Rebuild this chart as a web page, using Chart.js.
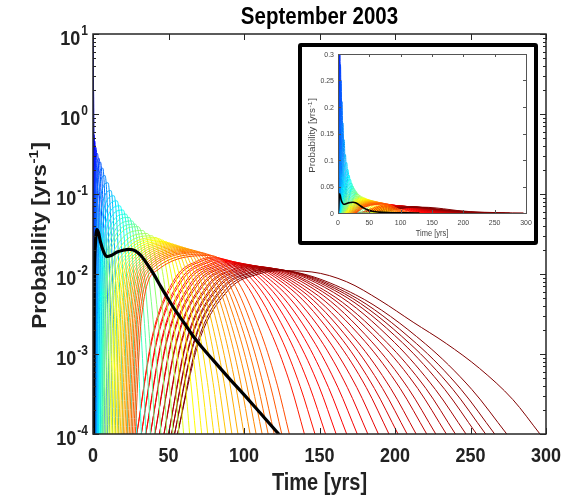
<!DOCTYPE html>
<html>
<head>
<meta charset="utf-8">
<title>September 2003</title>
<script src="https://cdn.jsdelivr.net/npm/chart.js@4.4.1/dist/chart.umd.min.js"></script>
<style>
  html, body { margin: 0; padding: 0; background: #fff; }
  #stage { position: relative; width: 582px; height: 500px; overflow: hidden; }
  #main { position: absolute; left: 0; top: 0; }
  #insetBox { position: absolute; left: 298px; top: 43px; width: 240px; height: 202px; box-sizing: border-box;
              border: 4px solid #000; border-radius: 3px; background: #fff; }
  #inset { position: absolute; left: 0; top: 0; }
</style>
</head>
<body>
<div id="stage">
  <canvas id="main" width="582" height="500"></canvas>
  <div id="insetBox"><canvas id="inset" width="232" height="194"></canvas></div>
</div>
<script>
// ---- recurrence-time densities, [time in yrs, probability per yr] ----
// short-interval family (blue)
const blueCurves = [
  [[0,1e-4],[0.05,2],[0.12,11],[0.3,1],[0.5,0.01],[0.7,1e-4]],
  [[0.05,1e-4],[0.15,0.4],[0.35,2.0],[0.7,0.3],[1.1,0.01],[1.5,1e-4]],
  [[0.1,1e-4],[0.15,0.027],[0.28,0.27],[0.7,0.55],[1.33,0.15],[1.87,0.0115],[2.23,0.001],[2.5,1e-4]],
  [[0.2,1e-4],[0.28,0.024],[0.5,0.23],[1.2,0.46],[2.0,0.13],[2.7,0.0103],[3.15,0.00098],[3.5,1e-4]],
  [[0.3,1e-4],[0.44,0.021],[0.81,0.195],[2,0.38],[3.05,0.11],[3.95,0.0093],[4.55,0.00093],[5,1e-4]],
  [[0.5,1e-4],[0.7,0.019],[1.25,0.168],[3,0.32],[4.23,0.095],[5.28,0.0085],[5.98,0.00089],[6.5,1e-4]],
  [[0.7,1e-4],[0.96,0.0174],[1.69,0.148],[4,0.28],[5.4,0.085],[6.6,0.0079],[7.4,0.00085],[8,1e-4]],
  [[0.9,1e-4],[1.23,0.016],[2.13,0.134],[5,0.25],[6.58,0.078],[7.93,0.0074],[8.83,0.00083],[9.5,1e-4]],
  [[1.2,1e-4],[1.62,0.0145],[2.79,0.114],[6.5,0.21],[8.08,0.067],[9.43,0.0067],[10.33,0.00079],[11,1e-4]],
  [[1.5,1e-4],[2.02,0.0126],[3.45,0.094],[8,0.17],[9.75,0.056],[11.25,0.006],[12.25,0.00074],[13,1e-4]],
  [[2,1e-4],[2.64,0.011],[4.4,0.078],[10,0.138],[11.75,0.047],[13.25,0.0054],[14.25,0.00071],[15,1e-4]],
  [[2.5,1e-4],[3.26,0.0095],[5.35,0.063],[12,0.11],[13.75,0.038],[15.25,0.0047],[16.25,0.00066],[17,1e-4]]
];
// intermediate family (cyan to green)
const cyanCurves = [
  [[3,1e-4],[3.88,0.0086],[6.3,0.055],[14,0.095],[16.1,0.034],[17.9,0.0044],[19.1,0.00064],[20,1e-4]],
  [[3.5,1e-4],[4.5,0.0078],[7.25,0.048],[16,0.082],[18.45,0.030],[20.55,0.0040],[21.95,0.00061],[23,1e-4]],
  [[4,1e-4],[5.12,0.0071],[8.2,0.042],[18,0.071],[20.8,0.0265],[23.2,0.0037],[24.8,0.00059],[26,1e-4]],
  [[4.5,1e-4],[5.74,0.0066],[9.15,0.0376],[20,0.063],[23.15,0.0239],[25.85,0.0035],[27.65,0.00057],[29,1e-4]],
  [[5,1e-4],[6.36,0.0061],[10.1,0.0337],[22,0.056],[25.5,0.0217],[28.5,0.0032],[30.5,0.00055],[32,1e-4]],
  [[5.5,1e-4],[6.98,0.0058],[11.05,0.031],[24,0.051],[27.85,0.020],[31.15,0.0031],[33.35,0.00054],[35,1e-4]],
  [[6,1e-4],[7.6,0.0054],[12,0.0282],[26,0.046],[30.2,0.0184],[33.8,0.0029],[36.2,0.00052],[38,1e-4]],
  [[6.5,1e-4],[8.22,0.0051],[12.95,0.0259],[28,0.042],[32.55,0.017],[36.45,0.0028],[39.05,0.00051],[41,1e-4]],
  [[7,1e-4],[8.84,0.0048],[13.9,0.0242],[30,0.039],[35.25,0.0159],[39.75,0.0027],[42.75,0.0005],[45,1e-4]],
  [[8,1e-4],[10,0.0045],[15.5,0.0219],[33,0.035],[38.6,0.0145],[43.4,0.0025],[46.6,0.00049],[49,1e-4]],
  [[9,1e-4],[11.16,0.0043],[17.1,0.0202],[36,0.032],[41.95,0.0135],[47.05,0.0024],[50.45,0.00047],[53,1e-4]],
  [[10,1e-4],[12.32,0.0041],[18.7,0.019],[39,0.030],[45.3,0.0127],[50.7,0.0023],[54.3,0.00047],[57,1e-4]]
];
// longer family (yellow to orange)
const yellowCurves = [
  [[11,1e-4],[13.48,0.0039],[20.3,0.0182],[42,0.0285],[48.3,0.0122],[53.7,0.0022],[57.3,0.00046],[60,1e-4]],
  [[12,1e-4],[14.56,0.0038],[21.6,0.0175],[44,0.0275],[51,0.0118],[57,0.0022],[61,0.00046],[64,1e-4]],
  [[13,1e-4],[15.64,0.0038],[22.9,0.0169],[46,0.0265],[53.7,0.0115],[60.3,0.0022],[64.7,0.00045],[68,1e-4]],
  [[14,1e-4],[16.72,0.0037],[24.2,0.0164],[48,0.0255],[56.4,0.0111],[63.6,0.0021],[68.4,0.00045],[72,1e-4]],
  [[15,1e-4],[17.8,0.0036],[25.5,0.0159],[50,0.0247],[59.1,0.0108],[66.9,0.0021],[72.1,0.00044],[76,1e-4]],
  [[16,1e-4],[18.88,0.0035],[26.8,0.0155],[52,0.024],[61.8,0.0105],[70.2,0.0020],[75.8,0.00044],[80,1e-4]],
  [[17,1e-4],[19.96,0.0035],[28.1,0.0151],[54,0.0233],[64.5,0.0103],[73.5,0.0020],[79.5,0.00044],[84,1e-4]],
  [[18,1e-4],[21.04,0.0034],[29.4,0.0147],[56,0.0226],[67.2,0.0100],[76.8,0.0020],[83.2,0.00043],[88,1e-4]],
  [[19,1e-4],[22.12,0.0033],[30.7,0.0143],[58,0.022],[69.9,0.0098],[80.1,0.0019],[86.9,0.00043],[92,1e-4]],
  [[20,1e-4],[23.2,0.0033],[32,0.0139],[60,0.0214],[72.6,0.0096],[83.4,0.0019],[90.6,0.00043],[96,1e-4]],
  [[21,1e-4],[24.28,0.0032],[33.3,0.0136],[62,0.0208],[75.3,0.0093],[86.7,0.0019],[94.3,0.00042],[100,1e-4]],
  [[22,1e-4],[25.36,0.0032],[34.6,0.0132],[64,0.0203],[78,0.0091],[90,0.0019],[98,0.00042],[104,1e-4]],
  [[23,1e-4],[26.44,0.0031],[35.9,0.0130],[66,0.0198],[80.7,0.0090],[93.3,0.0018],[101.7,0.00042],[108,1e-4]],
  [[24,1e-4],[27.52,0.0031],[37.2,0.0127],[68,0.0193],[83.4,0.0088],[96.6,0.0018],[105.4,0.00041],[112,1e-4]],
  [[25,1e-4],[28.6,0.0030],[38.5,0.0124],[70,0.0188],[86.1,0.0086],[99.9,0.0018],[109.1,0.00041],[116,1e-4]],
  [[26,1e-4],[29.68,0.0030],[39.8,0.0121],[72,0.0184],[88.8,0.0084],[103.2,0.0018],[112.8,0.00041],[120,1e-4]],
  [[27,1e-4],[30.84,0.0029],[41.4,0.0117],[75,0.0177],[92.5,0.0081],[107.5,0.0017],[117.5,0.0004],[125,1e-4]],
  [[28,1e-4],[32,0.0028],[43,0.0113],[78,0.017],[96.2,0.0079],[111.8,0.0017],[122.2,0.0004],[130,1e-4]]
];
// longest family (red to dark red)
const redCurves = [
  [[29,1e-4],[39.2,0.00165],[54.5,0.0089],[69.8,0.0147],[80,0.0163],[101,0.0076],[119,0.00165],[131,0.0004],[140,1e-4]],
  [[29,1e-4],[39.6,0.00163],[55.5,0.0087],[71.4,0.0144],[82,0.0159],[104.75,0.0074],[124.25,0.00163],[137.25,0.00039],[147,1e-4]],
  [[32,1e-4],[42.4,0.0016],[58,0.0085],[73.6,0.0140],[84,0.0155],[108.5,0.0073],[129.5,0.0016],[143.5,0.00039],[154,1e-4]],
  [[32,1e-4],[42.8,0.00158],[59,0.0083],[75.2,0.0137],[86,0.0151],[112.25,0.0071],[134.75,0.00158],[149.75,0.00039],[161,1e-4]],
  [[35,1e-4],[45.6,0.00156],[61.5,0.0081],[77.4,0.0133],[88,0.0147],[116,0.0070],[140,0.00156],[156,0.00038],[168,1e-4]],
  [[35,1e-4],[46,0.00154],[62.5,0.0079],[79,0.0130],[90,0.0144],[119.75,0.0068],[145.25,0.00154],[162.25,0.00038],[175,1e-4]],
  [[38,1e-4],[48.8,0.00152],[65,0.0078],[81.2,0.0128],[92,0.0141],[123.5,0.0067],[150.5,0.00152],[168.5,0.00038],[182,1e-4]],
  [[38,1e-4],[49.2,0.0015],[66,0.0076],[82.8,0.0125],[94,0.0138],[127.25,0.0066],[155.75,0.0015],[174.75,0.00038],[189,1e-4]],
  [[41,1e-4],[52,0.00149],[68.5,0.0076],[85,0.0123],[96,0.0136],[131,0.0065],[161,0.00149],[181,0.00038],[196,1e-4]],
  [[41,1e-4],[52.4,0.00147],[69.5,0.0074],[86.6,0.0121],[98,0.0133],[134.4,0.0064],[165.6,0.00147],[186.4,0.00037],[202,1e-4]],
  [[44,1e-4],[55.2,0.00146],[72,0.0073],[88.8,0.0119],[100,0.0131],[137.8,0.0063],[170.2,0.00146],[191.8,0.00037],[208,1e-4]],
  [[44,1e-4],[55.6,0.00145],[73,0.0072],[90.4,0.0117],[102,0.0129],[141.2,0.0062],[174.8,0.00145],[197.2,0.00037],[214,1e-4]],
  [[47,1e-4],[58.4,0.00144],[75.5,0.0071],[92.6,0.0115],[104,0.0127],[144.95,0.0061],[180.05,0.00144],[203.45,0.00037],[221,1e-4]],
  [[47,1e-4],[58.8,0.00142],[76.5,0.0070],[94.2,0.0114],[106,0.0125],[148.35,0.0061],[184.65,0.00142],[208.85,0.00037],[227,1e-4]],
  [[50,1e-4],[61.6,0.00142],[79,0.0070],[96.4,0.0113],[108,0.0124],[152.1,0.0060],[189.9,0.00142],[215.1,0.00037],[234,1e-4]],
  [[50,1e-4],[62,0.0014],[80,0.0069],[98,0.0111],[110,0.0122],[155.5,0.0059],[194.5,0.0014],[220.5,0.00037],[240,1e-4]],
  [[52,1e-4],[64,0.00139],[82,0.0068],[100,0.0109],[112,0.0120],[159.25,0.0059],[199.75,0.00139],[226.75,0.00036],[247,1e-4]],
  [[52,1e-4],[64.4,0.00138],[83,0.0067],[101.6,0.0107],[114,0.0118],[163,0.0058],[205,0.00138],[233,0.00036],[254,1e-4]],
  [[54,1e-4],[66.4,0.00136],[85,0.0066],[103.6,0.0105],[116,0.0116],[166.4,0.0057],[209.6,0.00136],[238.4,0.00036],[260,1e-4]],
  [[54,1e-4],[66.8,0.00135],[86,0.0065],[105.2,0.0104],[118,0.0114],[169.8,0.0056],[214.2,0.00135],[243.8,0.00036],[266,1e-4]],
  [[56,1e-4],[68.8,0.00134],[88,0.0064],[107.2,0.0102],[120,0.0112],[173.9,0.0055],[220.1,0.00134],[250.9,0.00036],[274,1e-4]],
  [[56,1e-4],[69.6,0.00133],[90,0.0064],[110.4,0.0101],[124,0.011],[145,0.0106],[168,0.0080],[190,0.0047],[212,0.0025],[234,0.00135],[256,0.00066],[278,0.00027],[296,1e-4]]
];
// combined (weighted) density
const mixtureCurve = [[0,1e-6],[0.8,0.006],[1.6,0.024],[2.6,0.036],[3.6,0.033],[5,0.025],[7,0.019],[9,0.0165],[12,0.017],[16,0.0188],[20,0.0198],[24,0.0203],[28,0.0195],[32,0.0168],[36,0.0132],[40,0.0101],[45,0.0069],[50,0.0048],[55,0.0034],[60,0.0025],[66,0.0017],[72,0.00122],[80,0.00082],[90,0.0005],[100,0.00031],[110,0.00019],[123,0.0001],[130,0.000072]];

// axis ticks
const timeTicks = [0, 50, 100, 150, 200, 250, 300];
const decadeExponents = [1, 0, -1, -2, -3, -4];
const insetProbTicks = [0, 0.05, 0.1, 0.15, 0.2, 0.25, 0.3];

// ---- styling ----
const FONT = '"Liberation Sans", Arial, Helvetica, sans-serif';
const SY = 1.16;           // tall lettering
const INK = '#222';

function jet(c) {
  const f = v => Math.max(0, Math.min(1, v));
  const r = f(1.5 - Math.abs(4 * c - 3)), g = f(1.5 - Math.abs(4 * c - 2)), b = f(1.5 - Math.abs(4 * c - 1));
  return `rgb(${Math.round(r * 255)},${Math.round(g * 255)},${Math.round(b * 255)})`;
}
// painting order, bottom to top: reds, blues, cyans, yellows
const colourBands = [[redCurves, 0.85, 1.0], [blueCurves, 0.06, 0.30], [cyanCurves, 0.33, 0.56], [yellowCurves, 0.60, 0.80]];
const family = [];
colourBands.forEach(([list, c0, c1]) => list.forEach((pts, i) => {
  family.push({ points: pts, color: jet(c0 + (c1 - c0) * i / (list.length - 1)) });
}));

function curveSets(blackWidth, width) {
  // the first dataset is painted last (on top): mixture, then the family in reverse painting order
  const sets = [{ data: mixtureCurve.slice(), borderColor: '#000', borderWidth: blackWidth }];
  for (let i = family.length - 1; i >= 0; i--) {
    sets.push({ data: family[i].points.slice(), borderColor: family[i].color, borderWidth: width });
  }
  return sets;
}

function txt(ctx, s, x, y, size, weight, align, color, rotated) {
  ctx.save();
  ctx.translate(x, y);
  if (rotated) { ctx.rotate(-Math.PI / 2); ctx.scale(SY, 1); } else { ctx.scale(1, SY); }
  ctx.font = `${weight} ${size}px ${FONT}`;
  ctx.textAlign = align; ctx.textBaseline = 'alphabetic'; ctx.fillStyle = color;
  ctx.fillText(s, 0, 0);
  ctx.restore();
}
function supTitle(ctx, x, y, base, sup, tail, size, supSize, weight, color, rotated) {
  ctx.save();
  ctx.translate(x, y);
  if (rotated) { ctx.rotate(-Math.PI / 2); ctx.scale(SY, 1); } else { ctx.scale(1, SY); }
  ctx.fillStyle = color; ctx.textBaseline = 'alphabetic'; ctx.textAlign = 'left';
  ctx.font = `${weight} ${size}px ${FONT}`;
  const w1 = ctx.measureText(base).width, w3 = ctx.measureText(tail).width;
  ctx.font = `${weight} ${supSize}px ${FONT}`;
  const w2 = ctx.measureText(sup).width;
  let cx = -(w1 + w2 + w3) / 2;
  ctx.font = `${weight} ${size}px ${FONT}`; ctx.fillText(base, cx, 0); cx += w1;
  ctx.font = `${weight} ${supSize}px ${FONT}`; ctx.fillText(sup, cx + 0.5, -size * 0.4); cx += w2 + 1;
  ctx.font = `${weight} ${size}px ${FONT}`; ctx.fillText(tail, cx, 0);
  ctx.restore();
}

const mainAxes = {
  id: 'mainAxes',
  afterDatasetsDraw(chart) {
    const { ctx, chartArea: a, scales: { x, y } } = chart;
    ctx.save();
    ctx.strokeStyle = '#262626';
    ctx.lineWidth = 1;
    ctx.beginPath();
    timeTicks.forEach(v => {
      const px = Math.round(x.getPixelForValue(v)) + 0.5;
      ctx.moveTo(px, a.bottom); ctx.lineTo(px, a.bottom - 6);
      ctx.moveTo(px, a.top); ctx.lineTo(px, a.top + 6);
    });
    decadeExponents.forEach(e => {
      const base = Math.pow(10, e);
      const py = Math.round(y.getPixelForValue(base)) + 0.5;
      ctx.moveTo(a.left, py); ctx.lineTo(a.left + 6, py);
      ctx.moveTo(a.right, py); ctx.lineTo(a.right - 6, py);
      if (e < 1) {
        for (let k = 2; k <= 9; k++) {
          const pm = Math.round(y.getPixelForValue(k * base)) + 0.5;
          ctx.moveTo(a.left, pm); ctx.lineTo(a.left + 3, pm);
          ctx.moveTo(a.right, pm); ctx.lineTo(a.right - 3, pm);
        }
      }
    });
    ctx.stroke();
    ctx.lineWidth = 1.5;
    ctx.strokeRect(a.left, a.top, a.right - a.left, a.bottom - a.top);

    // tick labels
    timeTicks.forEach(v => txt(ctx, String(v), x.getPixelForValue(v), a.bottom + 28, 18, 'bold', 'center', INK));
    decadeExponents.forEach(e => {
      const py = y.getPixelForValue(Math.pow(10, e));
      const ex = String(e);
      ctx.font = `bold 12px ${FONT}`;
      const we = ctx.measureText(ex).width;
      txt(ctx, ex, a.left - 5, py + 1, 12, 'bold', 'right', INK);
      txt(ctx, '10', a.left - 6 - we, py + 11, 18, 'bold', 'right', INK);
    });
    // titles
    txt(ctx, 'September 2003', (a.left + a.right) / 2, 24, 20.5, 'bold', 'center', '#000');
    txt(ctx, 'Time [yrs]', (a.left + a.right) / 2, 490, 20, 'bold', 'center', INK);
    supTitle(ctx, 46, 236, 'Probability [yrs', '-1', ']', 19.5, 13, 'bold', INK, true);
    ctx.restore();
  }
};

const insetAxes = {
  id: 'insetAxes',
  afterDatasetsDraw(chart) {
    const { ctx, chartArea: a, scales: { x, y } } = chart;
    const grey = '#444';
    ctx.save();
    ctx.strokeStyle = '#555';
    ctx.lineWidth = 1;
    ctx.beginPath();
    timeTicks.forEach(v => {
      const px = Math.round(x.getPixelForValue(v)) + 0.5;
      ctx.moveTo(px, a.bottom); ctx.lineTo(px, a.bottom - 3);
      ctx.moveTo(px, a.top); ctx.lineTo(px, a.top + 3);
    });
    insetProbTicks.forEach(v => {
      const py = Math.round(y.getPixelForValue(v)) + 0.5;
      ctx.moveTo(a.left, py); ctx.lineTo(a.left + 3, py);
      ctx.moveTo(a.right, py); ctx.lineTo(a.right - 3, py);
    });
    ctx.stroke();
    ctx.strokeRect(Math.round(a.left) + 0.5, Math.round(a.top) + 0.5, Math.round(a.right - a.left), Math.round(a.bottom - a.top));
    timeTicks.forEach(v => txt(ctx, String(v), x.getPixelForValue(v), a.bottom + 12, 7, 'normal', 'center', grey));
    insetProbTicks.forEach(v => txt(ctx, String(v), a.left - 4, y.getPixelForValue(v) + 2.8, 7, 'normal', 'right', grey));
    txt(ctx, 'Time [yrs]', (a.left + a.right) / 2, 189, 7.5, 'normal', 'center', grey);
    supTitle(ctx, 13, 89, 'Probability [yrs', '-1', ']', 8.5, 6, 'normal', grey, true);
    ctx.restore();
  }
};

const common = {
  responsive: false,
  animation: false,
  events: [],
  plugins: { legend: { display: false }, tooltip: { enabled: false }, title: { display: false } },
  elements: { point: { radius: 0 }, line: { cubicInterpolationMode: 'monotone', fill: false, borderJoinStyle: 'round' } }
};

new Chart(document.getElementById('main'), {
  type: 'line',
  data: { datasets: curveSets(3.2, 1) },
  options: Object.assign({}, common, {
    layout: { padding: { left: 93, right: 36, top: 34, bottom: 66 } },
    scales: {
      x: { type: 'linear', min: 0, max: 300, display: false },
      y: { type: 'logarithmic', min: 1e-4, max: 10, display: false }
    }
  }),
  plugins: [mainAxes]
});

new Chart(document.getElementById('inset'), {
  type: 'line',
  data: { datasets: curveSets(1.6, 1) },
  options: Object.assign({}, common, {
    layout: { padding: { left: 36, right: 8, top: 7, bottom: 28 } },
    scales: {
      x: { type: 'linear', min: 0, max: 300, display: false },
      y: { type: 'linear', min: 0, max: 0.3, display: false }
    }
  }),
  plugins: [insetAxes]
});
</script>
</body>
</html>
